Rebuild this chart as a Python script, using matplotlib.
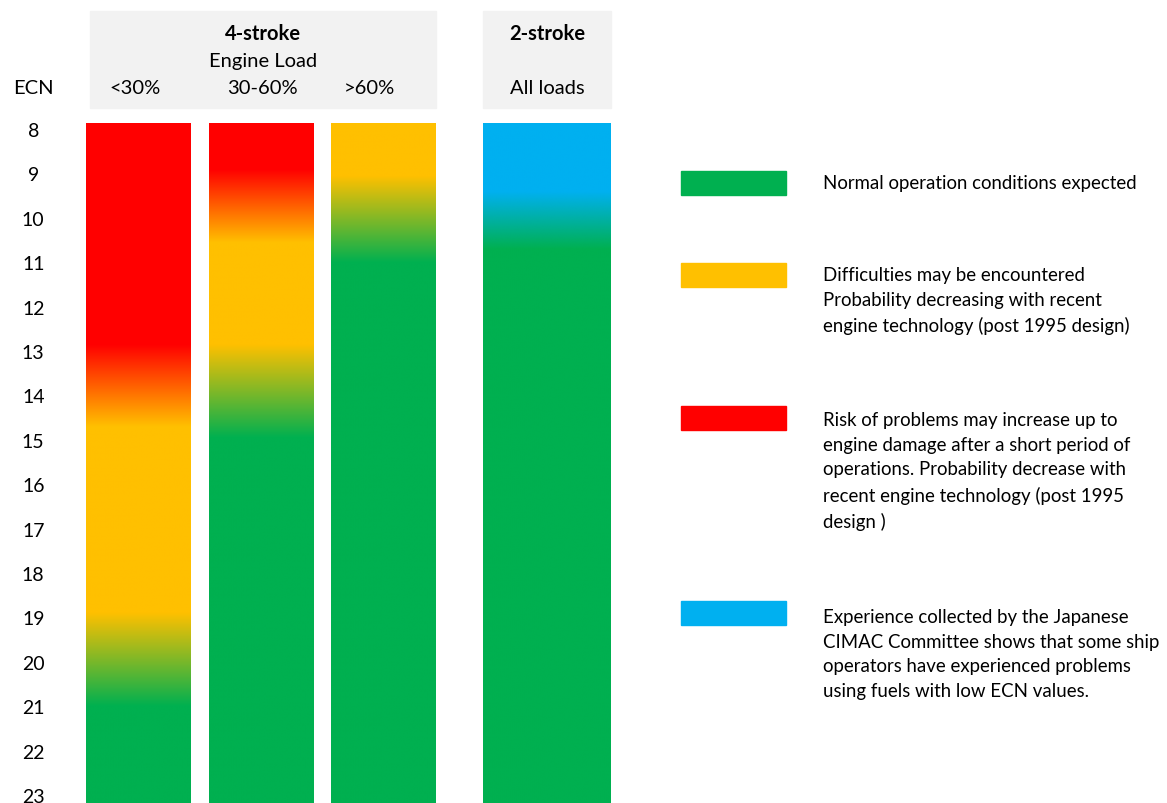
import matplotlib
matplotlib.use("Agg")
import matplotlib.pyplot as plt
from matplotlib.patches import Rectangle
from matplotlib.colors import to_rgb
import numpy as np

plt.rcParams['font.family'] = ['Lato', 'DejaVu Sans']

# ECN scale
ecn_ticks = list(range(8, 24))
ecn_top = 7.865
ecn_bottom = 23.18

# colour stops for each column: (ECN, colour name)
col_labels = ["<30%", "30-60%", ">60%", "All loads"]
col1_stops = [(7.8, "red"), (12.85, "red"), (14.7, "orange"), (18.9, "orange"), (21, "green"), (23.3, "green")]
col2_stops = [(7.8, "red"), (8.9, "red"), (10.55, "orange"), (12.85, "orange"), (14.95, "green"), (23.3, "green")]
col3_stops = [(7.8, "orange"), (9.05, "orange"), (11.0, "green"), (23.3, "green")]
col4_stops = [(7.8, "blue"), (9.4, "blue"), (10.7, "green"), (23.3, "green")]

palette = {"red": "#FF0000", "orange": "#FFC000", "green": "#00B050", "blue": "#00B0F0"}

legend_colors = ["green", "orange", "red", "blue"]
legend_texts = [
    "Normal operation conditions expected",
    "Difficulties may be encountered\nProbability decreasing with recent\nengine technology (post 1995 design)",
    "Risk of problems may increase up to\nengine damage after a short period of\noperations. Probability decrease with\nrecent engine technology (post 1995\ndesign )",
    "Experience collected by the Japanese\nCIMAC Committee shows that some ship\noperators have experienced problems\nusing fuels with low ECN values.",
]

W, H = 1167, 804
fig = plt.figure(figsize=(W / 100, H / 100), dpi=100)


def fx(x):
    return x / W


def fy(y):
    return 1 - y / H


# bar axes: pixels 86..611 horizontally, 124..804 vertically
ax = fig.add_axes([fx(86), 0, fx(611) - fx(86), fy(124)])

col_left = [0, 123, 245, 397]
col_width = [105, 105, 105, 128]
all_stops = [col1_stops, col2_stops, col3_stops, col4_stops]

yy = np.linspace(ecn_top, ecn_bottom, 700)
for left, width, stops in zip(col_left, col_width, all_stops):
    xs = [s[0] for s in stops]
    rgb = np.array([to_rgb(palette[s[1]]) for s in stops])
    img = np.stack([np.interp(yy, xs, rgb[:, k]) for k in range(3)], axis=1)
    img = img[:, None, :]
    ax.imshow(img, extent=[left, left + width, ecn_bottom, ecn_top],
              aspect='auto', interpolation='bilinear', origin='upper')

ax.set_xlim(0, 525)
ax.set_ylim(ecn_bottom, ecn_top)
for sp in ax.spines.values():
    sp.set_visible(False)
ax.set_xticks([])
ax.set_yticks(ecn_ticks)
ax.set_yticklabels([str(t) for t in ecn_ticks], fontsize=14, ha='center')
ax.tick_params(axis='y', length=0, pad=38)

# header boxes
fig.patches.append(Rectangle((fx(90), fy(109)), fx(436) - fx(90), fy(12) - fy(109),
                             transform=fig.transFigure, color="#F2F2F2", zorder=0))
fig.patches.append(Rectangle((fx(483), fy(109)), fx(611) - fx(483), fy(12) - fy(109),
                             transform=fig.transFigure, color="#F2F2F2", zorder=0))

fig.text(fx(263), fy(34), "4-stroke", ha='center', va='center', fontsize=14.5, fontweight='bold')
fig.text(fx(263), fy(62), "Engine Load", ha='center', va='center', fontsize=14.5)
fig.text(fx(547), fy(34), "2-stroke", ha='center', va='center', fontsize=14.5, fontweight='bold')
fig.text(fx(33), fy(89), "ECN", ha='center', va='center', fontsize=14.5)
for lab, cx in zip(col_labels, [135, 262, 369, 547]):
    fig.text(fx(cx), fy(89), lab, ha='center', va='center', fontsize=14.5)

# legend
sw_top = [172, 264, 407, 602]
txt_off = [3, 3, 5, 7]
for c, t, top, off in zip(legend_colors, legend_texts, sw_top, txt_off):
    fig.patches.append(Rectangle((fx(681), fy(top + 24)), fx(786) - fx(681), fy(top) - fy(top + 24),
                                 transform=fig.transFigure, color=palette[c]))
    fig.text(fx(823), fy(top + off), t, ha='left', va='top', fontsize=13.4, linespacing=1.55)

fig.savefig("out.png", dpi=100)
